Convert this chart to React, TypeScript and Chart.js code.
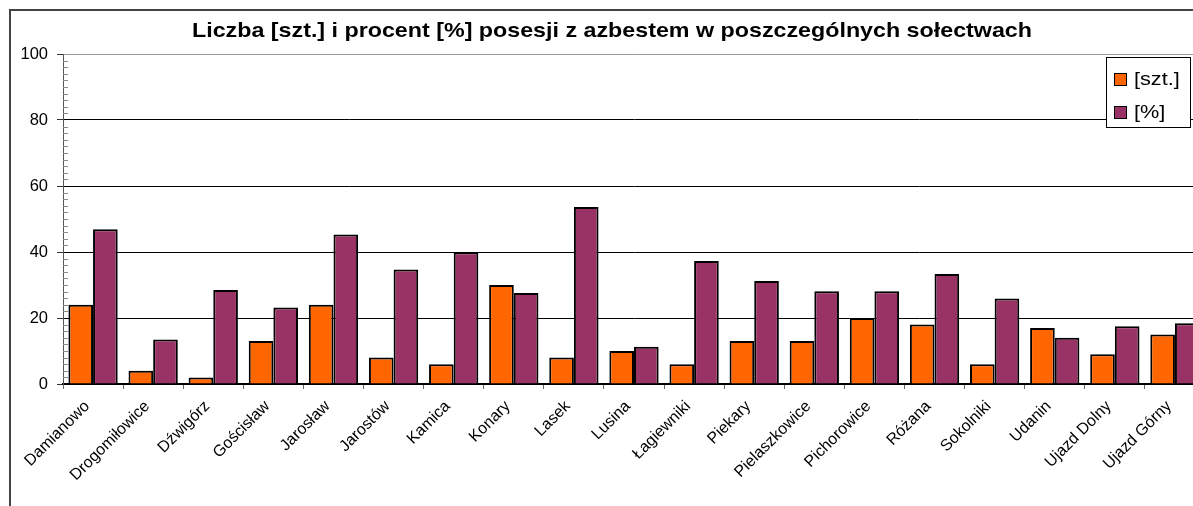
import React, { useEffect, useRef } from "react";
import { Chart, registerables } from "chart.js";

Chart.register(...registerables);

const categories = [
  "Damianowo",
  "Drogomiłowice",
  "Dźwigórz",
  "Gościsław",
  "Jarosław",
  "Jarostów",
  "Kamica",
  "Konary",
  "Lasek",
  "Lusina",
  "Łagiewniki",
  "Piekary",
  "Pielaszkowice",
  "Pichorowice",
  "Różana",
  "Sokolniki",
  "Udanin",
  "Ujazd Dolny",
  "Ujazd Górny",
];

const countValues = [24, 4, 2, 13, 24, 8, 6, 30, 8, 10, 6, 13, 13, 20, 18, 6, 17, 9, 15];

const percentValues = [
  46.9, 13.5, 28.5, 23.2, 45.3, 34.7, 39.9, 27.6, 53.6, 11.3, 37.3, 31.2, 28.1, 28.1, 33.3, 25.9, 14.0,
  17.5, 18.4,
];

const yTickValues = [0, 20, 40, 60, 80, 100];
const seriesLabels = ["[szt.]", "[%]"];
const seriesColors = ["#FF6600", "#993366"];
const titleText = "Liczba [szt.] i procent [%] posesji z azbestem w poszczególnych sołectwach";

const FONT = '"Liberation Sans", Arial, sans-serif';

const decorPlugin = {
  id: "decor",
  beforeDatasetsDraw(chart: any) {
    const ctx = chart.ctx;
    const y = chart.scales.y;
    const area = chart.chartArea;
    ctx.save();
    ctx.strokeStyle = "#8a8a8a";
    ctx.lineWidth = 1;
    for (let v = 2; v < 100; v += 2) {
      if (v % 20 === 0) continue;
      const py = Math.round(y.getPixelForValue(v)) + 0.5;
      ctx.beginPath();
      ctx.moveTo(area.left, py);
      ctx.lineTo(area.left + 5, py);
      ctx.stroke();
    }
    ctx.restore();
  },
  afterDraw(chart: any) {
    const ctx = chart.ctx;
    ctx.save();
    // title
    ctx.font = `bold 20.5px ${FONT}`;
    const tw = ctx.measureText(titleText).width;
    ctx.save();
    ctx.translate(612, 37);
    ctx.scale(840 / tw, 1);
    ctx.textAlign = "center";
    ctx.textBaseline = "alphabetic";
    ctx.fillStyle = "#000";
    ctx.fillText(titleText, 0, 0);
    ctx.restore();

    // legend
    const bx = 1106.5,
      by = 57.5,
      bw = 84,
      bh = 70;
    ctx.fillStyle = "#fff";
    ctx.fillRect(bx, by, bw, bh);
    ctx.strokeStyle = "#000";
    ctx.lineWidth = 1;
    ctx.strokeRect(bx, by, bw, bh);
    ctx.font = `19px ${FONT}`;
    seriesLabels.forEach((lab, i) => {
      const sy = 73 + i * 33;
      ctx.fillStyle = seriesColors[i];
      ctx.fillRect(1114.5, sy + 0.5, 12, 12);
      ctx.strokeStyle = "#000";
      ctx.strokeRect(1114.5, sy + 0.5, 12, 12);
      ctx.save();
      ctx.translate(1134, 85 + i * 33);
      ctx.scale(1.14, 1);
      ctx.fillStyle = "#000";
      ctx.textAlign = "left";
      ctx.textBaseline = "alphabetic";
      ctx.fillText(lab, 0, 0);
      ctx.restore();
    });
    ctx.restore();
  },
};

export default function App() {
  const ref = useRef<HTMLCanvasElement>(null);

  useEffect(() => {
    if (!ref.current) return;
    const chart = new Chart(ref.current, {
      type: "bar",
      data: {
        labels: categories,
        datasets: [
          {
            label: seriesLabels[0],
            data: countValues,
            backgroundColor: seriesColors[0],
            borderColor: "#000",
            borderWidth: 2,
            categoryPercentage: 0.82,
            barPercentage: 1.0,
          },
          {
            label: seriesLabels[1],
            data: percentValues,
            backgroundColor: seriesColors[1],
            borderColor: "#000",
            borderWidth: 2,
            categoryPercentage: 0.82,
            barPercentage: 1.0,
          },
        ],
      },
      options: {
        animation: false,
        responsive: false,
        devicePixelRatio: 1,
        layout: { padding: { left: 0, top: 54, right: 35, bottom: 0 } },
        plugins: {
          legend: { display: false },
          title: { display: false },
          tooltip: { enabled: false },
        },
        scales: {
          x: {
            grid: {
              drawOnChartArea: false,
              drawTicks: true,
              tickLength: 5,
              tickColor: "#666",
              offset: true,
            },
            border: { color: "#000", width: 2 },
            ticks: {
              autoSkip: false,
              maxRotation: 45,
              minRotation: 45,
              color: "#000",
              padding: 8,
              labelOffset: -6,
              font: { family: FONT, size: 16 },
            },
            afterFit: (s: any) => {
              s.height = 122;
            },
          },
          y: {
            min: 0,
            max: 100,
            afterBuildTicks: (s: any) => {
              s.ticks = yTickValues.map((v) => ({ value: v }));
            },
            grid: {
              color: (c: any) => (c.tick && c.tick.value === 100 ? "#9a9a9a" : "#000"),
              lineWidth: 1,
              tickLength: 6,
              tickColor: "#333",
            },
            border: { color: "#555", width: 1 },
            ticks: {
              color: "#000",
              padding: 9,
              font: { family: FONT, size: 16.5 },
            },
            afterFit: (s: any) => {
              s.width = 63;
            },
          },
        },
      },
      plugins: [decorPlugin],
    });
    return () => chart.destroy();
  }, []);

  return (
    <div
      style={{
        position: "fixed",
        left: 0,
        top: 0,
        width: 1193,
        height: 506,
        overflow: "hidden",
        background: "#fff",
      }}
    >
      <canvas
        ref={ref}
        width={1240}
        height={506}
        style={{ position: "absolute", left: 0, top: 0, width: "1240px", height: "506px" }}
      />
      <div
        style={{
          position: "absolute",
          left: 9,
          top: 9,
          right: -10,
          bottom: -10,
          borderLeft: "2px solid #444",
          borderTop: "2px solid #444",
          pointerEvents: "none",
        }}
      />
    </div>
  );
}
